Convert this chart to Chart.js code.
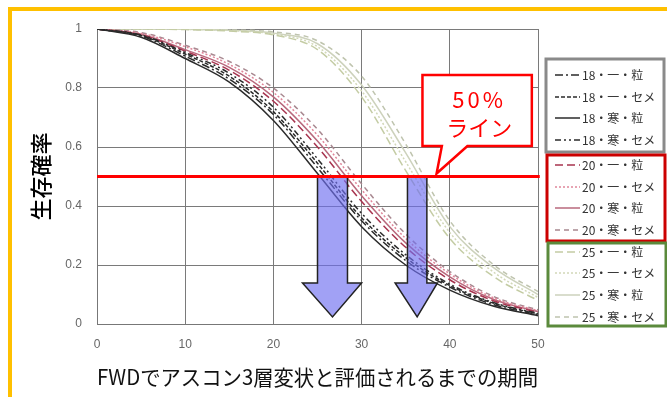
<!DOCTYPE html>
<html>
<head>
<meta charset="utf-8">
<script src="https://cdn.jsdelivr.net/npm/chart.js@4.4.0/dist/chart.umd.min.js"></script>
<style>
  html, body { margin: 0; padding: 0; background: #fff; overflow: hidden; }
  canvas { display: block; }
</style>
</head>
<body>
<canvas id="chart" width="667" height="397"></canvas>
<script>
// --- Datos ---
const years = [0, 5, 10, 15, 20, 25, 30, 35, 40, 45, 50];
const yTicks = [0, 0.2, 0.4, 0.6, 0.8, 1];

const s18IppanTsubu = [1, 0.976, 0.908, 0.83, 0.71, 0.53, 0.35, 0.215, 0.125, 0.065, 0.032];
const s18IppanCeme  = [1, 0.978, 0.915, 0.84, 0.72, 0.545, 0.36, 0.225, 0.13, 0.07, 0.034];
const s18KanTsubu   = [1, 0.972, 0.9, 0.82, 0.69, 0.51, 0.33, 0.2, 0.115, 0.06, 0.028];
const s18KanCeme    = [1, 0.98, 0.92, 0.85, 0.735, 0.56, 0.375, 0.235, 0.135, 0.072, 0.036];

const s20IppanTsubu = [1, 0.98, 0.925, 0.86, 0.755, 0.6, 0.415, 0.26, 0.15, 0.078, 0.04];
const s20IppanCeme  = [1, 0.985, 0.94, 0.88, 0.785, 0.64, 0.455, 0.29, 0.17, 0.088, 0.045];
const s20KanTsubu   = [1, 0.982, 0.93, 0.87, 0.77, 0.62, 0.435, 0.275, 0.16, 0.083, 0.042];
const s20KanCeme    = [1, 0.988, 0.945, 0.89, 0.8, 0.66, 0.475, 0.305, 0.178, 0.093, 0.048];

const s25IppanTsubu = [1, 1, 0.998, 0.993, 0.98, 0.93, 0.77, 0.52, 0.29, 0.16, 0.08];
const s25IppanCeme  = [1, 1, 0.999, 0.995, 0.983, 0.94, 0.79, 0.55, 0.31, 0.175, 0.09];
const s25KanTsubu   = [1, 1, 0.999, 0.996, 0.986, 0.95, 0.81, 0.58, 0.33, 0.19, 0.1];
const s25KanCeme    = [1, 1, 0.999, 0.997, 0.99, 0.96, 0.84, 0.61, 0.35, 0.2, 0.11];

const labels = [
  '18・一・粒', '18・一・セメ', '18・寒・粒', '18・寒・セメ',
  '20・一・粒', '20・一・セメ', '20・寒・粒', '20・寒・セメ',
  '25・一・粒', '25・一・セメ', '25・寒・粒', '25・寒・セメ'
];
const seriesValues = [
  s18IppanTsubu, s18IppanCeme, s18KanTsubu, s18KanCeme,
  s20IppanTsubu, s20IppanCeme, s20KanTsubu, s20KanCeme,
  s25IppanTsubu, s25IppanCeme, s25KanTsubu, s25KanCeme
];

// línea del 50% y flechas (en unidades de datos)
const lineLevel = 0.5;
const arrows = [
  { left: 25.0, right: 28.4, headLeft: 23.3, headRight: 30.0, tipX: 26.7, neck: 0.139, tip: 0.024 },
  { left: 35.2, right: 37.4, headLeft: 33.8, headRight: 38.6, tipX: 36.3, neck: 0.139, tip: 0.024 }
];

// --- Estilos ---
const colors = [
  '#2b2b2b', '#2b2b2b', '#2b2b2b', '#2b2b2b',
  '#a8344f', '#e0869a', '#b8687c', '#a88890',
  '#c4cca4', '#d2d8b8', '#cdd2bc', '#bfc4ae'
];
const dashes = [
  [8, 3, 2, 3], [4, 2], [], [6, 3, 2, 3, 2, 3],
  [8, 4], [2, 2], [], [5, 4],
  [8, 4], [2, 2], [], [5, 4]
];

const FONT_JP = '"Noto Sans CJK JP", "Noto Sans", sans-serif';
const FONT_TICK = '"Liberation Sans", Arial, sans-serif';

const datasets = seriesValues.map((vals, i) => ({
  label: labels[i],
  data: years.map((x, j) => ({ x: x, y: vals[j] })),
  borderColor: colors[i],
  borderDash: dashes[i],
  borderWidth: 1.5,
  pointRadius: 0,
  fill: false,
  cubicInterpolationMode: 'monotone'
}));

// --- Plugin de decoración ---
const decoPlugin = {
  id: 'deco',
  beforeDraw(chart) {
    const ctx = chart.ctx;
    ctx.save();
    ctx.fillStyle = '#fff';
    ctx.fillRect(0, 0, chart.width, chart.height);
    ctx.strokeStyle = '#ffc000';
    ctx.lineWidth = 4;
    ctx.strokeRect(10, 9, 720, 500);
    ctx.restore();
  },
  afterDatasetsDraw(chart) {
    const { ctx, scales: { x, y } } = chart;
    ctx.save();
    // flechas
    arrows.forEach(a => {
      const top = y.getPixelForValue(lineLevel);
      ctx.beginPath();
      ctx.moveTo(x.getPixelForValue(a.left), top);
      ctx.lineTo(x.getPixelForValue(a.right), top);
      ctx.lineTo(x.getPixelForValue(a.right), y.getPixelForValue(a.neck));
      ctx.lineTo(x.getPixelForValue(a.headRight), y.getPixelForValue(a.neck));
      ctx.lineTo(x.getPixelForValue(a.tipX), y.getPixelForValue(a.tip));
      ctx.lineTo(x.getPixelForValue(a.headLeft), y.getPixelForValue(a.neck));
      ctx.lineTo(x.getPixelForValue(a.left), y.getPixelForValue(a.neck));
      ctx.closePath();
      ctx.fillStyle = 'rgba(110, 110, 240, 0.65)';
      ctx.fill();
      ctx.strokeStyle = '#222';
      ctx.lineWidth = 1.5;
      ctx.stroke();
    });
    // línea del 50%
    const ly = y.getPixelForValue(lineLevel);
    ctx.beginPath();
    ctx.moveTo(x.getPixelForValue(0), ly);
    ctx.lineTo(x.getPixelForValue(50.2), ly);
    ctx.strokeStyle = '#ff0000';
    ctx.lineWidth = 3;
    ctx.stroke();
    // globo "50% ライン"
    const bx0 = x.getPixelForValue(36.9), bx1 = x.getPixelForValue(49.3);
    const by0 = y.getPixelForValue(0.844), by1 = y.getPixelForValue(0.603);
    ctx.beginPath();
    ctx.moveTo(bx0, by0);
    ctx.lineTo(bx1, by0);
    ctx.lineTo(bx1, by1);
    ctx.lineTo(x.getPixelForValue(42.0), by1);
    ctx.lineTo(x.getPixelForValue(38.5), y.getPixelForValue(0.51));
    ctx.lineTo(x.getPixelForValue(39.1), by1);
    ctx.lineTo(bx0, by1);
    ctx.closePath();
    ctx.fillStyle = '#fff';
    ctx.fill();
    ctx.strokeStyle = '#ff0000';
    ctx.lineWidth = 2.5;
    ctx.lineJoin = 'miter';
    ctx.stroke();
    ctx.fillStyle = '#ff0000';
    ctx.textAlign = 'center';
    ctx.textBaseline = 'middle';
    const cx = (bx0 + bx1) / 2 + 2;
    ctx.font = '22px ' + FONT_JP;
    ctx.letterSpacing = '3px';
    ctx.fillText('50%', cx, by0 + 25);
    ctx.letterSpacing = '0px';
    ctx.fillText('ライン', cx, by0 + 53);
    ctx.restore();
  },
  afterDraw(chart) {
    const ctx = chart.ctx;
    const rows = [75, 97, 118, 140, 165, 187, 208, 230, 252, 273, 295, 317];
    ctx.save();
    chart.data.datasets.forEach((ds, i) => {
      ctx.beginPath();
      ctx.setLineDash(ds.borderDash || []);
      ctx.strokeStyle = ds.borderColor;
      ctx.lineWidth = 1.5;
      ctx.moveTo(555, rows[i]);
      ctx.lineTo(580, rows[i]);
      ctx.stroke();
      ctx.setLineDash([]);
      ctx.fillStyle = '#333';
      ctx.font = '12px ' + FONT_JP;
      ctx.textAlign = 'left';
      ctx.textBaseline = 'middle';
      ctx.fillText(ds.label, 582, rows[i]);
    });
    ctx.lineWidth = 3;
    ctx.strokeStyle = '#8a8a8a';
    ctx.strokeRect(546, 59, 118, 93);
    ctx.strokeStyle = '#cc0000';
    ctx.strokeRect(547, 155, 118, 86);
    ctx.strokeStyle = '#5b8a3c';
    ctx.strokeRect(548, 243, 118, 83);
    ctx.restore();
  }
};

// --- Gráfico ---
const ctxChart = document.getElementById('chart').getContext('2d');
const chart = new Chart(ctxChart, {
  type: 'line',
  data: { datasets: datasets },
  options: {
    responsive: false,
    animation: false,
    layout: { padding: { left: 0, top: 29, right: 129, bottom: 0 } },
    plugins: {
      legend: { display: false },
      tooltip: { enabled: false }
    },
    scales: {
      x: {
        type: 'linear',
        min: 0,
        max: 50,
        afterFit(scale) { scale.height = 73; },
        ticks: {
          stepSize: 10,
          padding: 13,
          color: '#666',
          font: { family: FONT_TICK, size: 12 }
        },
        grid: { color: '#7a7a7a', drawTicks: false },
        border: { display: true, color: '#777' },
        title: {
          display: true,
          text: 'FWDでアスコン3層変状と評価されるまでの期間',
          color: '#111',
          font: { family: FONT_JP, size: 21 },
          padding: { top: 0, bottom: 7 }
        }
      },
      y: {
        min: 0,
        max: 1,
        afterFit(scale) { scale.width = 97; },
        afterBuildTicks(scale) { scale.ticks = yTicks.map(v => ({ value: v })); },
        ticks: {
          padding: 15,
          color: '#666',
          font: { family: FONT_TICK, size: 12 },
          callback: v => String(Math.round(v * 10) / 10)
        },
        grid: { color: '#7a7a7a', drawTicks: false },
        border: { display: true, color: '#777' },
        title: {
          display: true,
          text: '生存確率',
          color: '#000',
          font: { family: FONT_JP, size: 22, weight: '500' },
          padding: { top: 27, bottom: 0 }
        }
      }
    }
  },
  plugins: [decoPlugin]
});
</script>
</body>
</html>
